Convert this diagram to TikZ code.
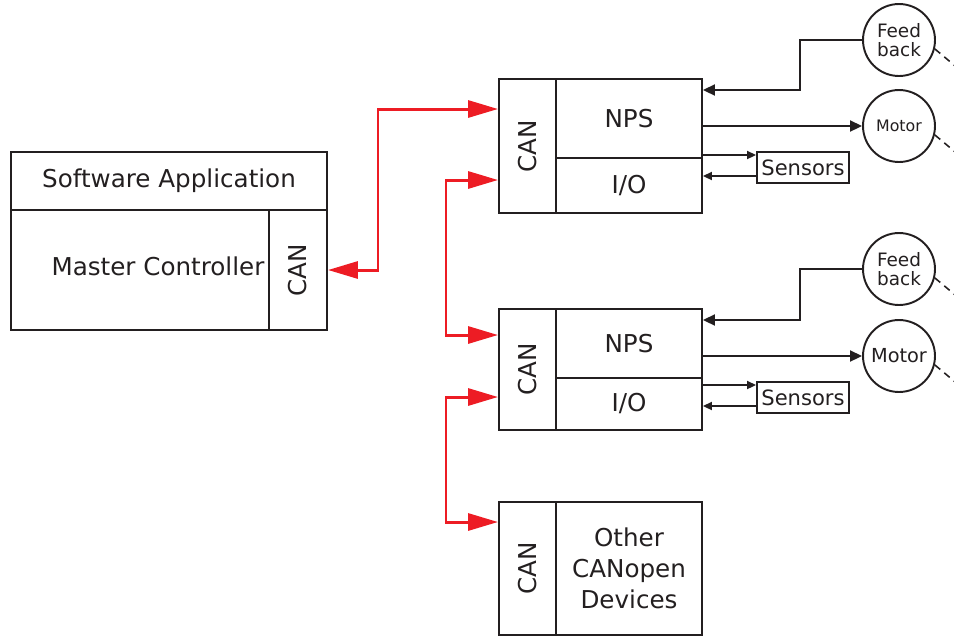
\documentclass[tikz,border=0pt]{standalone}
\usepackage{fontspec}
\setmainfont{DejaVu Sans}
\usetikzlibrary{arrows.meta}
\definecolor{canred}{RGB}{237,28,36}
\definecolor{ink}{RGB}{35,31,32}
\begin{document}
\begin{tikzpicture}[x=0.02cm, y=-0.02cm, line width=1.1pt, color=ink,
		cell/.style={draw, inner sep=0pt, font=\fontsize{14}{17.6}\selectfont},
		unit/.style={draw, circle, minimum size=1.44cm, inner sep=0pt, align=center},
		bus/.style={canred, line width=1.7pt,
			{Triangle[length=6mm,width=3.4mm]}-{Triangle[length=6mm,width=3.4mm]}},
		sig/.style={-{Triangle[length=2.4mm,width=2.2mm]}},
		sensarr/.style={-{Triangle[length=1.8mm,width=1.6mm]}}]
		\useasboundingbox (0,0) rectangle (954,637);
		\clip (0,0) rectangle (954,637);
		% master
		\node[cell, minimum width=6.32cm, minimum height=1.16cm] (app) at (169,181) {Software Application};
		\node[cell, minimum width=5.16cm, minimum height=2.4cm] (mc) at (140,270) {};
		\node[font=\fontsize{14}{17}\selectfont, inner sep=0pt] (mctxt) at (158,266) {Master Controller};
		\node[cell, minimum width=1.16cm, minimum height=2.4cm] (mcan) at (298,270) {\rotatebox{90}{CAN}};
		% first drive
		\node[cell, minimum width=1.14cm, minimum height=2.68cm] (can1) at (527.5,146) {\rotatebox{90}{CAN}};
		\node[cell, minimum width=2.92cm, minimum height=1.58cm] (nps1) at (629,118.5) {NPS};
		\node[cell, minimum width=2.92cm, minimum height=1.1cm] (io1) at (629,185.5) {I/O};
		% second drive
		\node[cell, minimum width=1.14cm, minimum height=2.42cm] (can2) at (527.5,369.5) {\rotatebox{90}{CAN}};
		\node[cell, minimum width=2.92cm, minimum height=1.38cm] (nps2) at (629,343.5) {NPS};
		\node[cell, minimum width=2.92cm, minimum height=1.04cm] (io2) at (629,404) {I/O};
		% other devices
		\node[cell, minimum width=1.14cm, minimum height=2.66cm] (can3) at (527.5,568.5) {\rotatebox{90}{CAN}};
		\node[cell, minimum width=2.92cm, minimum height=2.66cm, align=center] (oth) at (629,568.5) {Other\\CANopen\\Devices};
		% sensors, feedback, motors
		\node[cell, minimum width=1.84cm, minimum height=0.62cm, font=\fontsize{12}{14}\selectfont] (sen1) at (803,167.5) {Sensors};
		\node[cell, minimum width=1.84cm, minimum height=0.62cm, font=\fontsize{12}{14}\selectfont] (sen2) at (803,397.5) {Sensors};
		\node[unit, font=\fontsize{10.5}{10.5}\selectfont] (fb1) at (899,40) {Feed\\back};
		\node[unit, font=\fontsize{9}{10}\selectfont] (m1) at (899,126) {Motor};
		\node[unit, font=\fontsize{10.5}{10.5}\selectfont] (fb2) at (899,269) {Feed\\back};
		\node[unit, font=\fontsize{11}{12}\selectfont] (m2) at (899,356) {Motor};
		\foreach \u in {fb1,m1,fb2,m2}
			\draw[dashed, line width=0.9pt, dash pattern=on 4pt off 3pt] (\u.-14) -- ++(-40:1.5cm);
		% CAN bus
		\coordinate (j1) at (378,270);
		\coordinate (j2) at (446,335);
		\coordinate (j3) at (446,522);
		\draw[bus] (mcan.east) -- (j1) |- (can1.west |- 0,109);
		\draw[bus] (can1.west |- 0,180) -| (j2) -- (can2.west |- j2);
		\draw[bus] (can2.west |- 0,397) -| (j3) -- (can3.west |- j3);
		% signals
		\draw[sig] (fb1.west) -| (800,90) -- (nps1.east |- 0,90);
		\draw[sig] (nps1.east |- m1) -- (m1.west);
		\draw[sensarr] (io1.east |- 0,155) -- (sen1.west |- 0,155);
		\draw[sensarr] (sen1.west |- 0,176) -- (io1.east |- 0,176);
		\draw[sig] (fb2.west) -| (800,320) -- (nps2.east |- 0,320);
		\draw[sig] (nps2.east |- m2) -- (m2.west);
		\draw[sensarr] (io2.east |- 0,385) -- (sen2.west |- 0,385);
		\draw[sensarr] (sen2.west |- 0,406) -- (io2.east |- 0,406);
	\end{tikzpicture}
\end{document}
